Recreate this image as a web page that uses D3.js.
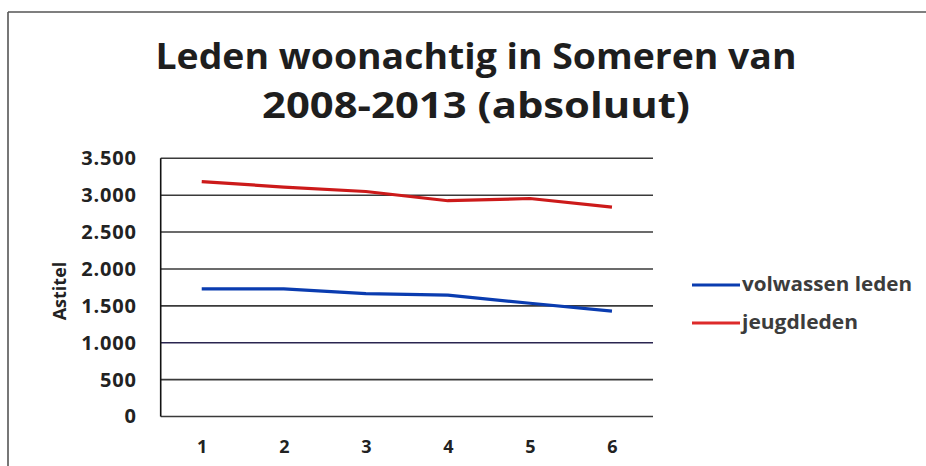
<!DOCTYPE html>
<html><head><meta charset="utf-8">
<script src="https://cdn.jsdelivr.net/npm/d3@7"></script>
<style>body{margin:0;background:#fff}svg{display:block}</style>
</head><body><svg id="c" width="926" height="466"></svg>
<script>
const categories = ["1","2","3","4","5","6"];
const volwassen = [1730, 1730, 1665, 1645, 1535, 1428];
const jeugd = [3185, 3110, 3050, 2925, 2955, 2838];
const yTicks = [0,500,1000,1500,2000,2500,3000,3500];
const seriesNames = ["volwassen leden","jeugdleden"];
const titleLines = ["Leden woonachtig in Someren van","2008-2013 (absoluut)"];

const svg = d3.select("#c");
const font = "'Open Sans', sans-serif";
// frame
svg.append("line").attr("x1",8).attr("x2",926).attr("y1",12).attr("y2",12).attr("stroke","#555").attr("stroke-width",1.6);
svg.append("line").attr("x1",8).attr("x2",8).attr("y1",12).attr("y2",466).attr("stroke","#555").attr("stroke-width",1.6);

const L=160.7,R=653,T=158.3,B=416.5;
const x = d3.scalePoint().domain(categories).range([L,R]).padding(0.5);
const y = d3.scaleLinear().domain([0,3500]).range([B,T]);

// gridlines
svg.append("g").selectAll("line").data(yTicks).join("line")
  .attr("x1",L).attr("x2",R).attr("y1",d=>y(d)).attr("y2",d=>y(d))
  .attr("stroke",d=>d===1000?"#2a2550":"#3a3a3a").attr("stroke-width",1.6);
svg.append("line").attr("x1",L).attr("x2",L).attr("y1",T).attr("y2",B).attr("stroke","#111").attr("stroke-width",1.6);

// y axis labels
const yAxis = d3.axisLeft(y).tickValues(yTicks).tickSize(0).tickPadding(24)
  .tickFormat(d=>d3.format(",")(d).replace(/,/g,"."));
const ga = svg.append("g").attr("transform",`translate(${L},0)`).call(yAxis);
ga.select(".domain").remove();
ga.selectAll("text").attr("font-family",font).attr("font-weight","bold").attr("font-size",20).attr("fill","#222").attr("letter-spacing",0.8);

// x axis labels
const xAxis = d3.axisBottom(x).tickSize(0).tickPadding(24);
const gx = svg.append("g").attr("transform",`translate(0,${B})`).call(xAxis);
gx.select(".domain").remove();
gx.selectAll("text").attr("font-family",font).attr("font-weight","bold").attr("font-size",18).attr("fill","#222");

// y title
svg.append("text").attr("transform","translate(66,291) rotate(-90)").attr("text-anchor","middle")
  .attr("font-family",font).attr("font-weight","bold").attr("font-size",18).attr("fill","#222").text("Astitel");

// lines
const line = d3.line().x((d,i)=>x(categories[i])).y(d=>y(d));
svg.append("path").datum(jeugd).attr("d",line).attr("fill","none").attr("stroke","#cc1a1a").attr("stroke-width",3.2);
svg.append("path").datum(volwassen).attr("d",line).attr("fill","none").attr("stroke","#0a3cb0").attr("stroke-width",3.2);

// title
svg.append("text").attr("x",476).attr("y",69).attr("text-anchor","middle")
  .attr("font-family",font).attr("font-weight","bold").attr("font-size",35).attr("fill","#1e1e1e")
  .attr("textLength",641).attr("lengthAdjust","spacingAndGlyphs").text(titleLines[0]);
svg.append("text").attr("x",476).attr("y",118).attr("text-anchor","middle")
  .attr("font-family",font).attr("font-weight","bold").attr("font-size",35).attr("fill","#1e1e1e")
  .attr("textLength",428).attr("lengthAdjust","spacingAndGlyphs").text(titleLines[1]);

// legend
const colors = ["#0a3cb0","#dd2a2a"];
const legendLen = [170, 116];
const lg = svg.append("g");
[285,323].forEach((ly,i)=>{
  lg.append("line").attr("x1",692).attr("x2",740).attr("y1",ly).attr("y2",ly).attr("stroke",colors[i]).attr("stroke-width",3.2);
  lg.append("text").attr("x",742).attr("y",ly+6).attr("font-family",font).attr("font-weight","bold").attr("font-size",19)
    .attr("fill","#3c3c3c").attr("textLength",legendLen[i]).attr("lengthAdjust","spacingAndGlyphs").text(seriesNames[i]);
});
</script></body></html>
